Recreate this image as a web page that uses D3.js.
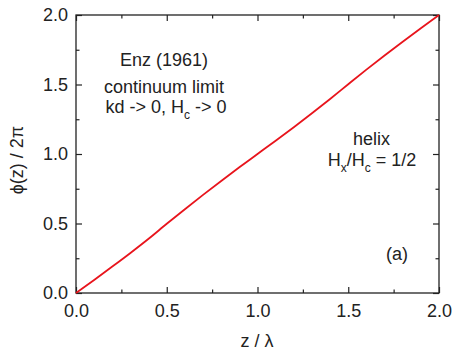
<!DOCTYPE html>
<html><head><meta charset="utf-8">
<script src="https://cdn.jsdelivr.net/npm/d3@7"></script>
<style>body{margin:0;background:#fff}text{font-family:"Liberation Sans",Arial,sans-serif;fill:#222}</style>
</head><body><svg id="c" width="457" height="358"></svg>
<script>
const zValues   = [0,0.1,0.2,0.3,0.4,0.5,0.6,0.7,0.8,0.9,1.0,1.1,1.2,1.3,1.4,1.5,1.6,1.7,1.8,1.9,2.0];
const phiValues = [0,0.094,0.19,0.288,0.39,0.498,0.603,0.706,0.806,0.904,1.0,1.096,1.193,1.293,1.396,1.502,1.607,1.709,1.808,1.905,2.0];
const xTicks = [0,0.5,1.0,1.5,2.0];
const yTicks = [0,0.5,1.0,1.5,2.0];
const minorTicks = [0.25,0.75,1.25,1.75];

const svg = d3.select("#c");
const L=76,T=15,W=363,H=278;
const FS=18, SUB=12;
const x = d3.scaleLinear().domain([0,2]).range([L,L+W]);
const y = d3.scaleLinear().domain([0,2]).range([T+H,T]);
const g = svg.append("g");
const fmt = d3.format(".1f");

function ax(axis, tx, ty){
  const a = g.append("g").attr("transform",`translate(${tx},${ty})`).call(axis);
  a.select(".domain").remove();
  a.selectAll("line").attr("stroke","#222").attr("stroke-width",1.2);
  return a;
}
const bx = ax(d3.axisBottom(x).tickValues(xTicks).tickFormat(fmt).tickSize(-6).tickPadding(11),0,T+H);
bx.selectAll("text").attr("font-size",FS).attr("fill","#222");
ax(d3.axisBottom(x).tickValues(minorTicks).tickFormat("").tickSize(-3.5),0,T+H);
ax(d3.axisTop(x).tickValues(xTicks).tickFormat("").tickSize(-6),0,T);
ax(d3.axisTop(x).tickValues(minorTicks).tickFormat("").tickSize(-3.5),0,T);
const ly = ax(d3.axisLeft(y).tickValues(yTicks).tickFormat(fmt).tickSize(-6).tickPadding(8),L,0);
ly.selectAll("text").attr("font-size",FS).attr("fill","#222");
ax(d3.axisLeft(y).tickValues(minorTicks).tickFormat("").tickSize(-3.5),L,0);
ax(d3.axisRight(y).tickValues(yTicks).tickFormat("").tickSize(-6),L+W,0);
ax(d3.axisRight(y).tickValues(minorTicks).tickFormat("").tickSize(-3.5),L+W,0);

g.append("rect").attr("x",L).attr("y",T).attr("width",W).attr("height",H)
 .attr("fill","none").attr("stroke","#222").attr("stroke-width",1.3);

const data = zValues.map((z,i)=>[z,phiValues[i]]);
g.append("path").datum(data)
 .attr("d",d3.line().x(d=>x(d[0])).y(d=>y(d[1])).curve(d3.curveMonotoneX))
 .attr("fill","none").attr("stroke","#e8141c").attr("stroke-width",1.8);

svg.append("text").attr("x",257).attr("y",347).attr("text-anchor","middle").attr("font-size",FS).text("z / λ");
svg.append("text").attr("transform","translate(23,160) rotate(-90)").attr("text-anchor","middle").attr("font-size",FS).text("ϕ(z) / 2π");

function t(xp,yp,txt){return svg.append("text").attr("x",xp).attr("y",yp).attr("text-anchor","middle").attr("font-size",FS).text(txt);}
t(164,66,"Enz (1961)");
t(164,92.5,"continuum limit");
const k = svg.append("text").attr("x",166).attr("y",113).attr("text-anchor","middle").attr("font-size",FS);
k.append("tspan").text("kd -> 0, H");
k.append("tspan").attr("font-size",SUB).attr("dy",6).text("c");
k.append("tspan").attr("dy",-6).text(" -> 0");
t(371.5,145,"helix");
const h = svg.append("text").attr("x",372).attr("y",166).attr("text-anchor","middle").attr("font-size",FS);
h.append("tspan").text("H");
h.append("tspan").attr("font-size",SUB).attr("dy",6).text("x");
h.append("tspan").attr("dy",-6).text("/H");
h.append("tspan").attr("font-size",SUB).attr("dy",6).text("c");
h.append("tspan").attr("dy",-6).text(" = 1/2");
t(397,260,"(a)");
</script></body></html>
